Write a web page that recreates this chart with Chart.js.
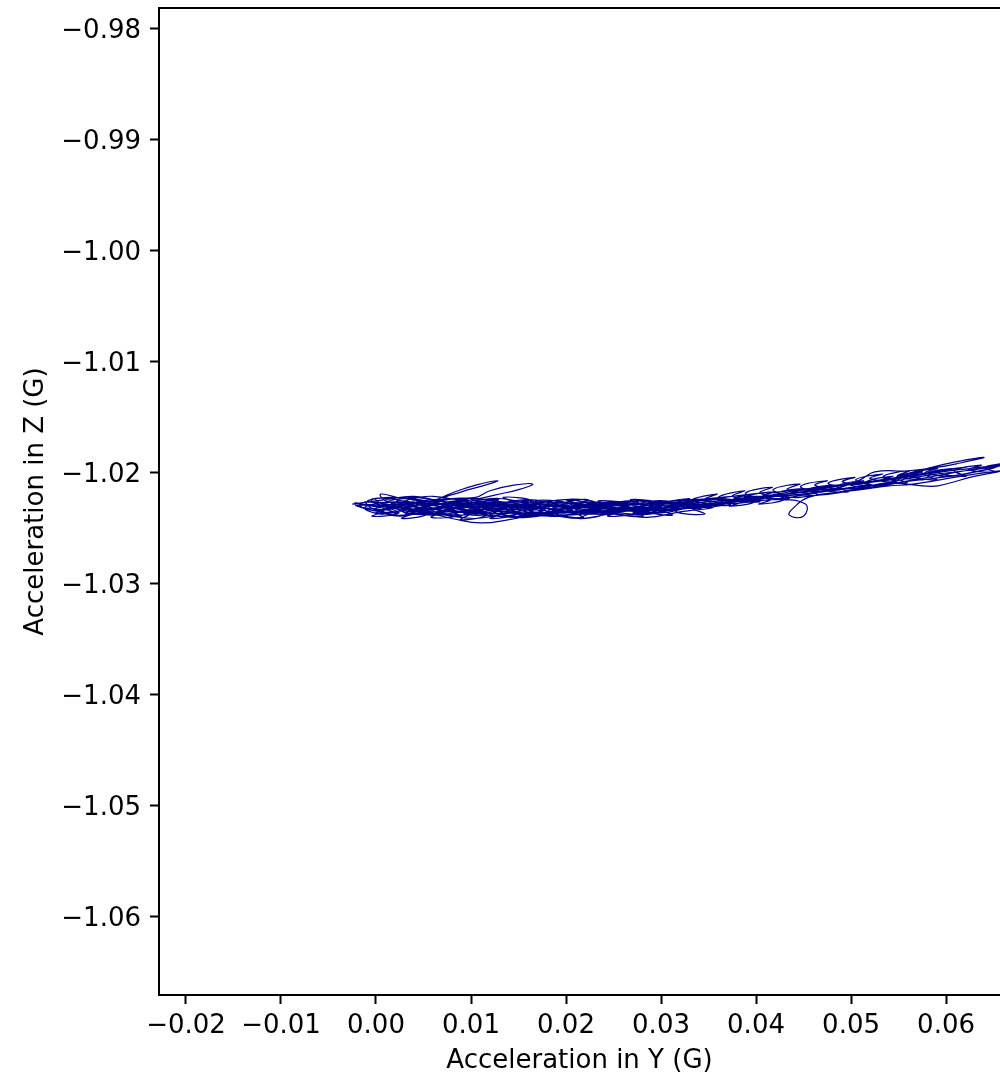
<!DOCTYPE html>
<html><head><meta charset="utf-8">
<script src="https://cdn.jsdelivr.net/npm/chart.js@4"></script>
<style>html,body{margin:0;padding:0;background:#fff}#wrap{width:1000px;height:1084px;position:relative}</style>
</head><body><div id="wrap"><canvas id="c" width="1000" height="1084"></canvas></div>
<script>
// Acceleration in Y (G) / Z (G) — recorded trace, split into passes
const accY_1 = [
-0.0025,0.0010,0.0040,0.0070,0.0100,0.0130,0.0160,0.0190,0.0220,0.0250,0.0280,0.0310,0.0340,0.0305,0.0265,0.0225,0.0185,0.0145,0.0105,0.0065,
0.0030,0.0005,-0.0012,0.0020,0.0050,0.0080,0.0105,0.0120,0.0145,0.0165,0.0150,0.0125,0.0100,0.0135,0.0170,0.0205,0.0240,0.0275,0.0300,0.0270,
0.0235,0.0200,0.0165,0.0130,0.0095,0.0060,0.0025,0.0000,-0.0010,0.0015,0.0045,0.0075,0.0110,0.0145,0.0180,0.0215,0.0250,0.0290,0.0330,0.0370,
0.0405,0.0440,0.0470,0.0500,0.0530,0.0560,0.0590,0.0620,0.0655,0.0620,0.0585,0.0555,0.0520,0.0490,0.0455,0.0440,0.0435,0.0450,0.0452,0.0420,
0.0385,0.0350,0.0315,0.0280,0.0245,0.0210,0.0175,0.0140,0.0110,0.0080,0.0050,0.0020,0.0000,0.0025,0.0055,0.0085,0.0115,0.0150,0.0185,0.0220,
0.0255,0.0290,0.0325,0.0360,0.0395,0.0430,0.0465,0.0500,0.0535,0.0565,0.0595,0.0630,0.0660,0.0625,0.0604,0.0585,0.0540,0.0505,0.0470,0.0440,
0.0410,0.0375,0.0340,0.0305,0.0270,0.0235,0.0200,0.0165,0.0130,0.0095,0.0060,0.0030,0.0005,0.0010,0.0040,0.0075,0.0110,0.0145,0.0180,0.0215,
0.0250,0.0285,0.0320,0.0355,0.0325,0.0290,0.0255,0.0220,0.0185,0.0150,0.0115,0.0080,0.0045,0.0015,-0.0020,0.0005,0.0035,0.0060,0.0080,0.0105,
0.0128,0.0115,0.0090,0.0070,0.0095,0.0130,0.0165,0.0200,0.0235,0.0270,0.0300,0.0335,0.0365,0.0395,0.0425,0.0455,0.0485,0.0510,0.0525,0.0560,
0.0590,0.0615,0.0640,0.0610,0.0580,0.0555,0.0540,0.0510,0.0480,0.0450,0.0420,0.0390,0.0360,0.0330,0.0300,0.0265,0.0230,0.0195,0.0160,0.0125,
0.0090,0.0055,0.0025,0.0005,0.0030,0.0060,0.0090,0.0120,0.0155,0.0190,0.0225,0.0260,0.0295,0.0330,0.0360,0.0390,0.0415,0.0445,0.0475,0.0505,
0.0535,0.0565,0.0595,0.0625,0.0658,0.0630,0.0600,0.0570,0.0545,0.0515,0.0485,0.0455,0.0425,0.0395,0.0365,0.0335,0.0300,0.0265,0.0230,0.0195,
0.0160,0.0125,0.0090,0.0055,0.0020,-0.0005,0.0025,0.0060,0.0095,0.0130,0.0165,0.0200,0.0235,0.0265,0.0240,0.0205,0.0170,0.0135,0.0100,0.0065,
0.0035,0.0010
];
const accZ_1 = [
-1.0228,-1.0224,-1.0221,-1.0226,-1.0230,-1.0227,-1.0232,-1.0229,-1.0234,-1.0231,-1.0236,-1.0231,-1.0228,-1.0234,-1.0238,-1.0235,-1.0239,-1.0236,-1.0241,-1.0237,
-1.0234,-1.0237,-1.0231,-1.0226,-1.0229,-1.0223,-1.0222,-1.0216,-1.0211,-1.0210,-1.0215,-1.0220,-1.0226,-1.0228,-1.0231,-1.0227,-1.0230,-1.0228,-1.0232,-1.0237,
-1.0233,-1.0236,-1.0233,-1.0237,-1.0233,-1.0235,-1.0231,-1.0233,-1.0226,-1.0222,-1.0224,-1.0229,-1.0226,-1.0230,-1.0226,-1.0231,-1.0229,-1.0233,-1.0229,-1.0226,
-1.0222,-1.0220,-1.0217,-1.0213,-1.0210,-1.0205,-1.0201,-1.0198,-1.0194,-1.0201,-1.0205,-1.0208,-1.0214,-1.0217,-1.0222,-1.0231,-1.0238,-1.0239,-1.0228,-1.0224,
-1.0227,-1.0229,-1.0233,-1.0231,-1.0235,-1.0232,-1.0236,-1.0242,-1.0245,-1.0241,-1.0236,-1.0238,-1.0232,-1.0228,-1.0232,-1.0227,-1.0231,-1.0228,-1.0232,-1.0229,
-1.0233,-1.0229,-1.0226,-1.0224,-1.0225,-1.0219,-1.0220,-1.0216,-1.0212,-1.0210,-1.0206,-1.0201,-1.0198,-1.0204,-1.0209,-1.0212,-1.0209,-1.0214,-1.0215,-1.0218,
-1.0221,-1.0221,-1.0225,-1.0228,-1.0225,-1.0228,-1.0224,-1.0227,-1.0223,-1.0225,-1.0221,-1.0223,-1.0219,-1.0225,-1.0230,-1.0234,-1.0237,-1.0240,-1.0238,-1.0241,
-1.0237,-1.0240,-1.0235,-1.0231,-1.0229,-1.0232,-1.0227,-1.0230,-1.0225,-1.0233,-1.0229,-1.0232,-1.0227,-1.0230,-1.0229,-1.0234,-1.0228,-1.0225,-1.0218,-1.0211,
-1.0207,-1.0211,-1.0217,-1.0224,-1.0229,-1.0233,-1.0230,-1.0235,-1.0232,-1.0234,-1.0230,-1.0227,-1.0225,-1.0222,-1.0223,-1.0219,-1.0214,-1.0206,-1.0199,-1.0198,
-1.0195,-1.0191,-1.0186,-1.0190,-1.0196,-1.0202,-1.0209,-1.0212,-1.0216,-1.0217,-1.0221,-1.0223,-1.0227,-1.0231,-1.0236,-1.0233,-1.0237,-1.0234,-1.0238,-1.0234,
-1.0238,-1.0235,-1.0239,-1.0234,-1.0230,-1.0233,-1.0229,-1.0232,-1.0229,-1.0233,-1.0230,-1.0232,-1.0229,-1.0232,-1.0228,-1.0224,-1.0220,-1.0216,-1.0213,-1.0210,
-1.0207,-1.0203,-1.0199,-1.0196,-1.0193,-1.0199,-1.0203,-1.0200,-1.0205,-1.0208,-1.0211,-1.0214,-1.0217,-1.0219,-1.0222,-1.0224,-1.0226,-1.0229,-1.0226,-1.0228,
-1.0224,-1.0227,-1.0223,-1.0226,-1.0222,-1.0225,-1.0233,-1.0238,-1.0235,-1.0239,-1.0235,-1.0238,-1.0235,-1.0230,-1.0227,-1.0231,-1.0228,-1.0231,-1.0228,-1.0230,
-1.0226,-1.0229
];
const accY_2 = [0.0000,0.0030,0.0018,0.0048,0.0034,0.0064,0.0050,0.0080,0.0068,0.0098,0.0084,0.0114,0.0100,0.0130,0.0118,0.0148,0.0134,0.0164,0.0150,0.0180,0.0168,0.0198,0.0184,0.0214,0.0200,0.0230,0.0218,0.0248,0.0234,0.0264,0.0250,0.0280,0.0268,0.0298,0.0284,0.0314,0.0300,0.0330];
const accZ_2 = [-1.0223,-1.0226,-1.0231,-1.0228,-1.0222,-1.0226,-1.0232,-1.0229,-1.0224,-1.0225,-1.0230,-1.0229,-1.0223,-1.0227,-1.0232,-1.0228,-1.0222,-1.0225,-1.0231,-1.0230,-1.0225,-1.0227,-1.0233,-1.0229,-1.0224,-1.0226,-1.0231,-1.0230,-1.0225,-1.0228,-1.0233,-1.0229,-1.0224,-1.0227,-1.0232,-1.0229,-1.0225,-1.0228];
const accY_3 = [0.0360,0.0332,0.0346,0.0316,0.0330,0.0300,0.0312,0.0284,0.0297,0.0268,0.0281,0.0252,0.0266,0.0236,0.0250,0.0220,0.0233,0.0204,0.0218,0.0188,0.0202,0.0172,0.0186,0.0156,0.0170,0.0140,0.0153,0.0124,0.0138,0.0108,0.0122,0.0092,0.0106,0.0076,0.0090,0.0060,0.0074,0.0044,0.0058,0.0028,0.0040,0.0010,0.0022,-0.0008,-0.0018];
const accZ_3 = [-1.0229,-1.0231,-1.0237,-1.0235,-1.0229,-1.0232,-1.0238,-1.0234,-1.0228,-1.0233,-1.0239,-1.0236,-1.0230,-1.0232,-1.0237,-1.0235,-1.0229,-1.0233,-1.0240,-1.0236,-1.0230,-1.0231,-1.0237,-1.0234,-1.0228,-1.0233,-1.0239,-1.0235,-1.0229,-1.0232,-1.0238,-1.0236,-1.0230,-1.0233,-1.0239,-1.0234,-1.0228,-1.0232,-1.0237,-1.0235,-1.0229,-1.0232,-1.0236,-1.0233,-1.0229];
const accY_4 = [-0.0015,0.0012,0.0000,0.0027,0.0016,0.0043,0.0031,0.0058,0.0047,0.0074,0.0062,0.0089,0.0078,0.0105,0.0093,0.0120,0.0109,0.0136,0.0124,0.0151,0.0140,0.0167,0.0155,0.0182,0.0171,0.0198,0.0186,0.0213,0.0202,0.0229,0.0217,0.0244,0.0233,0.0260,0.0248,0.0275,0.0264,0.0291,0.0279,0.0306,0.0295,0.0322,0.0310,0.0337,0.0326,0.0353,0.0341,0.0368,0.0357,0.0384,0.0372,0.0399,0.0388,0.0415,0.0403,0.0430,0.0419,0.0446];
const accZ_4 = [-1.0228,-1.0231,-1.0236,-1.0233,-1.0227,-1.0230,-1.0237,-1.0234,-1.0228,-1.0232,-1.0236,-1.0232,-1.0227,-1.0231,-1.0237,-1.0233,-1.0228,-1.0231,-1.0236,-1.0234,-1.0229,-1.0232,-1.0238,-1.0234,-1.0228,-1.0231,-1.0236,-1.0233,-1.0227,-1.0232,-1.0237,-1.0233,-1.0228,-1.0230,-1.0235,-1.0232,-1.0227,-1.0230,-1.0234,-1.0231,-1.0226,-1.0229,-1.0233,-1.0229,-1.0224,-1.0227,-1.0231,-1.0228,-1.0223,-1.0226,-1.0230,-1.0226,-1.0221,-1.0224,-1.0228,-1.0224,-1.0219,-1.0222];
const accY_5 = [0.0668,0.0640,0.0652,0.0624,0.0637,0.0609,0.0621,0.0593,0.0606,0.0578,0.0590,0.0562,0.0575,0.0547,0.0559,0.0531,0.0544,0.0516,0.0528,0.0500,0.0513,0.0485,0.0497,0.0469,0.0482,0.0454,0.0466,0.0438,0.0451,0.0423,0.0435,0.0407,0.0420,0.0392,0.0404,0.0376,0.0389,0.0361,0.0373,0.0345,0.0358,0.0330,0.0342,0.0314,0.0300];
const accZ_5 = [-1.0191,-1.0195,-1.0199,-1.0197,-1.0193,-1.0198,-1.0203,-1.0200,-1.0196,-1.0201,-1.0206,-1.0203,-1.0199,-1.0204,-1.0209,-1.0207,-1.0203,-1.0208,-1.0213,-1.0211,-1.0207,-1.0212,-1.0217,-1.0215,-1.0211,-1.0215,-1.0220,-1.0218,-1.0214,-1.0218,-1.0223,-1.0221,-1.0217,-1.0221,-1.0226,-1.0224,-1.0220,-1.0224,-1.0229,-1.0227,-1.0223,-1.0227,-1.0232,-1.0229,-1.0227];
const accY_6 = [0.0300,0.0272,0.0285,0.0256,0.0270,0.0241,0.0254,0.0226,0.0238,0.0210,0.0223,0.0195,0.0207,0.0179,0.0192,0.0163,0.0176,0.0148,0.0160,0.0132,0.0145,0.0117,0.0129,0.0101,0.0114,0.0086,0.0098,0.0070,0.0083,0.0055,0.0067,0.0039,0.0052,0.0024,0.0036,0.0008,0.0018,-0.0010,-0.0022];
const accZ_6 = [-1.0233,-1.0230,-1.0225,-1.0228,-1.0234,-1.0231,-1.0226,-1.0229,-1.0235,-1.0230,-1.0224,-1.0228,-1.0234,-1.0231,-1.0225,-1.0229,-1.0236,-1.0232,-1.0226,-1.0228,-1.0233,-1.0230,-1.0224,-1.0229,-1.0235,-1.0231,-1.0225,-1.0228,-1.0234,-1.0230,-1.0224,-1.0228,-1.0233,-1.0229,-1.0223,-1.0227,-1.0232,-1.0229,-1.0227];
const accY_7 = [-0.0020,0.0008,-0.0004,0.0024,0.0012,0.0040,0.0027,0.0055,0.0043,0.0071,0.0058,0.0086,0.0074,0.0102,0.0089,0.0117,0.0105,0.0133,0.0120,0.0148,0.0136,0.0164,0.0151,0.0179,0.0167,0.0195,0.0182,0.0210,0.0198,0.0226,0.0213,0.0241,0.0229,0.0257,0.0244,0.0272,0.0260,0.0288,0.0275,0.0303];
const accZ_7 = [-1.0230,-1.0234,-1.0239,-1.0236,-1.0231,-1.0235,-1.0241,-1.0237,-1.0232,-1.0234,-1.0240,-1.0238,-1.0232,-1.0235,-1.0242,-1.0238,-1.0233,-1.0236,-1.0241,-1.0237,-1.0231,-1.0235,-1.0240,-1.0237,-1.0232,-1.0234,-1.0239,-1.0236,-1.0231,-1.0235,-1.0241,-1.0237,-1.0232,-1.0234,-1.0239,-1.0236,-1.0231,-1.0234,-1.0238,-1.0234];
const accY_8 = [-0.0010,0.0015,0.0006,0.0032,0.0022,0.0049,0.0038,0.0066,0.0055,0.0083,0.0071,0.0099,0.0088,0.0116,0.0104,0.0132,0.0121,0.0149,0.0137,0.0165,0.0154,0.0182,0.0170,0.0198,0.0187,0.0215,0.0203,0.0231,0.0220,0.0248,0.0236,0.0264,0.0253,0.0281,0.0269,0.0297,0.0286,0.0314,0.0302,0.0330,0.0319,0.0347,0.0335,0.0362];
const accZ_8 = [-1.0226,-1.0229,-1.0235,-1.0232,-1.0225,-1.0230,-1.0236,-1.0231,-1.0226,-1.0228,-1.0234,-1.0233,-1.0227,-1.0230,-1.0237,-1.0232,-1.0226,-1.0229,-1.0235,-1.0231,-1.0225,-1.0230,-1.0236,-1.0233,-1.0227,-1.0229,-1.0234,-1.0232,-1.0226,-1.0231,-1.0237,-1.0232,-1.0227,-1.0229,-1.0234,-1.0231,-1.0226,-1.0229,-1.0233,-1.0230,-1.0225,-1.0228,-1.0232,-1.0228];
const accY_9 = [0.0620,0.0592,0.0606,0.0578,0.0591,0.0563,0.0577,0.0549,0.0562,0.0534,0.0548,0.0520,0.0533,0.0505,0.0519,0.0491,0.0504,0.0476,0.0490,0.0462,
0.0475,0.0447,0.0461,0.0433,0.0446,0.0418,0.0432,0.0404,0.0417,0.0389,0.0403,0.0375,0.0388,0.0360,0.0374,0.0346,0.0359,0.0331,0.0345,0.0317,
0.0330,0.0302,0.0316,0.0288,0.0301,0.0273,0.0287,0.0259,0.0272,0.0244,0.0258,0.0230,0.0243,0.0215,0.0229,0.0201,0.0214,0.0186,0.0200,0.0172,
0.0185,0.0157,0.0171,0.0143,0.0156,0.0128,0.0142,0.0114,0.0127,0.0099,0.0113,0.0085,0.0098,0.0070,0.0084,0.0056,0.0069,0.0041,0.0055,0.0027,
0.0040,0.0012,0.0002];
const accZ_9 = [-1.0195,-1.0199,-1.0203,-1.0200,-1.0196,-1.0201,-1.0206,-1.0203,-1.0198,-1.0203,-1.0208,-1.0205,-1.0201,-1.0206,-1.0211,-1.0208,-1.0204,-1.0209,-1.0214,-1.0211,
-1.0207,-1.0212,-1.0218,-1.0215,-1.0210,-1.0215,-1.0221,-1.0218,-1.0213,-1.0218,-1.0224,-1.0221,-1.0216,-1.0222,-1.0227,-1.0224,-1.0219,-1.0225,-1.0230,-1.0227,
-1.0223,-1.0228,-1.0234,-1.0230,-1.0225,-1.0229,-1.0235,-1.0232,-1.0226,-1.0230,-1.0236,-1.0233,-1.0227,-1.0231,-1.0237,-1.0233,-1.0227,-1.0230,-1.0236,-1.0232,
-1.0226,-1.0231,-1.0237,-1.0233,-1.0227,-1.0230,-1.0235,-1.0232,-1.0226,-1.0230,-1.0236,-1.0232,-1.0226,-1.0229,-1.0235,-1.0231,-1.0225,-1.0229,-1.0234,-1.0231,
-1.0226,-1.0229,-1.0231];

const xTicks = [-0.02,-0.01,0.00,0.01,0.02,0.03,0.04,0.05,0.06];
const yTicks = [-0.98,-0.99,-1.00,-1.01,-1.02,-1.03,-1.04,-1.05,-1.06];
const xRange = [-0.02284, 0.06568];
const yRange = [-1.06703, -0.97811];

const accY = [].concat(accY_1, accY_2, accY_3, accY_4, accY_5, accY_6, accY_7, accY_8, accY_9);
const accZ = [].concat(accZ_1, accZ_2, accZ_3, accZ_4, accZ_5, accZ_6, accZ_7, accZ_8, accZ_9);
const points = accY.map((v, i) => ({x: v, y: accZ[i]}));
const fmt = v => (v < -1e-9 ? '\u2212' : '') + Math.abs(v).toFixed(2);
const FONT = {family: 'DejaVu Sans', size: 26};

const topSpine = {
  id: 'topSpine',
  afterDraw(chart) {
    const {ctx, chartArea} = chart;
    ctx.save();
    ctx.strokeStyle = '#000';
    ctx.lineWidth = 2;
    ctx.beginPath();
    ctx.moveTo(chartArea.left - 1, chartArea.top);
    ctx.lineTo(chartArea.right, chartArea.top);
    ctx.stroke();
    ctx.restore();
  }
};

function noPad(s) { s.paddingTop = 0; s.paddingBottom = 0; s.paddingLeft = 0; s.paddingRight = 0; }

new Chart(document.getElementById('c'), {
  type: 'scatter',
  data: {datasets: [{
    data: points,
    showLine: true,
    borderColor: '#00008B',
    borderWidth: 1.2,
    pointRadius: 0,
    tension: 0.45,
    fill: false
  }]},
  options: {
    responsive: false,
    animation: false,
    devicePixelRatio: 1,
    layout: {padding: {top: 8, left: 0, right: 0, bottom: 0}},
    plugins: {legend: {display: false}, tooltip: {enabled: false}},
    scales: {
      x: {
        type: 'linear', min: xRange[0], max: xRange[1],
        afterBuildTicks: s => { s.ticks = xTicks.map(v => ({value: v})); },
        afterFit: s => { s.height = 89; noPad(s); },
        ticks: {callback: v => fmt(v), font: FONT, color: '#000', padding: 7, maxRotation: 0, autoSkip: false},
        grid: {drawOnChartArea: false, drawTicks: true, tickLength: 9, tickWidth: 2, tickColor: '#000'},
        border: {display: true, color: '#000', width: 2},
        title: {display: true, text: 'Acceleration in Y (G)', font: FONT, color: '#000', padding: {top: 0, bottom: 7}}
      },
      y: {
        type: 'linear', min: yRange[0], max: yRange[1],
        afterBuildTicks: s => { s.ticks = yTicks.map(v => ({value: v})); },
        afterFit: s => { s.width = 159; noPad(s); },
        ticks: {callback: v => fmt(v), font: FONT, color: '#000', padding: 9, autoSkip: false, labelOffset: 2},
        grid: {drawOnChartArea: false, drawTicks: true, tickLength: 9, tickWidth: 2, tickColor: '#000'},
        border: {display: true, color: '#000', width: 2},
        title: {display: true, text: 'Acceleration in Z (G)', font: FONT, color: '#000', padding: {top: 21, bottom: 0}}
      }
    }
  },
  plugins: [topSpine]
});
</script>
</body></html>
